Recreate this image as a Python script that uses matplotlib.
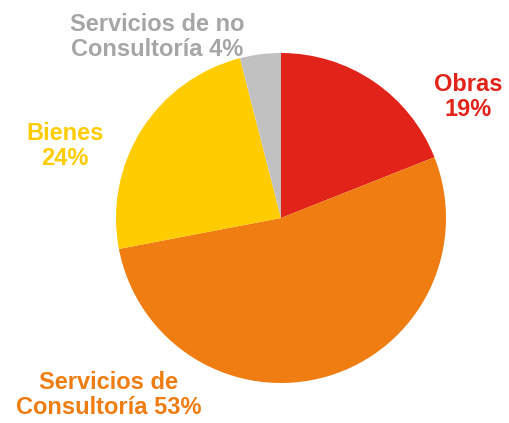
import matplotlib.pyplot as plt

labels = ['Obras', 'Servicios de\nConsultoría', 'Bienes', 'Servicios de no\nConsultoría']
values = [19, 53, 24, 4]
colors = ['#E2231A', '#EF7D12', '#FFCC00', '#C2C1C1']
text_colors = ['#E2231A', '#EF7D12', '#FFCC00', '#A6A6A6']
# label centres in pixel coords (y measured from top)
label_pos = [(468, 97), (109, 395), (65, 146), (157, 37)]

fig = plt.figure(figsize=(5.09, 4.23), dpi=100)
ax = fig.add_axes([0, 0, 1, 1])

ax.pie(values, colors=colors, startangle=90, counterclock=False,
       center=(281, 423 - 218), radius=165, frame=True,
       wedgeprops=dict(linewidth=0))
ax.set_xlim(0, 509)
ax.set_ylim(0, 423)
ax.set_aspect('equal')
ax.axis('off')

for lab, v, c, (px, py) in zip(labels, values, text_colors, label_pos):
    sep = '\n' if lab in ('Obras', 'Bienes') else ' '
    ax.text(px, 423 - py, f'{lab}{sep}{v}%', ha='center', va='center',
            color=c, fontsize=17, fontweight='bold', linespacing=1.1,
            family='Liberation Sans')

fig.savefig('out.png', dpi=100)
